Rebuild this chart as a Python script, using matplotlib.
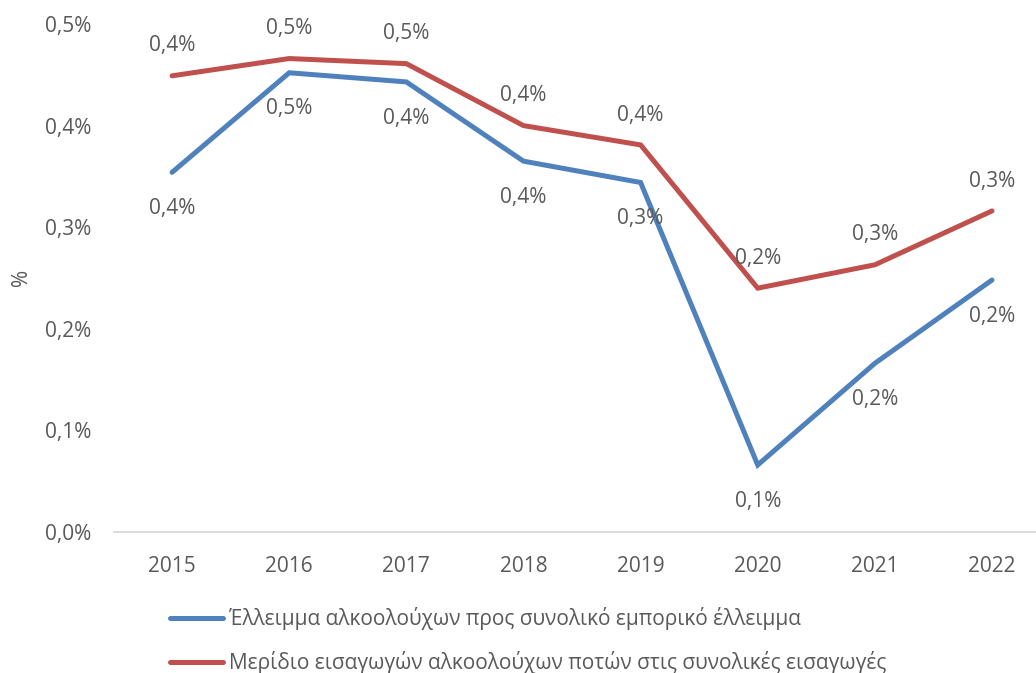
import numpy as np
import matplotlib
matplotlib.use("Agg")
import matplotlib.pyplot as plt

plt.rcParams['font.family'] = ['Open Sans', 'DejaVu Sans']

years = ['2015', '2016', '2017', '2018', '2019', '2020', '2021', '2022']
deficit_share = [0.354, 0.452, 0.443, 0.365, 0.344, 0.066, 0.166, 0.248]
import_share = [0.449, 0.466, 0.461, 0.400, 0.381, 0.240, 0.263, 0.316]
yticks = [0.0, 0.1, 0.2, 0.3, 0.4, 0.5]

label_deficit = 'Έλλειμμα αλκοολούχων προς συνολικό εμπορικό έλλειμμα'
label_import = 'Μερίδιο εισαγωγών αλκοολούχων ποτών στις συνολικές εισαγωγές'

BLUE = '#4F81BD'
RED = '#C0504D'
TXT = '#595959'


def pct(v):
    return f"{v:.1f}".replace('.', ',') + '%'


fig = plt.figure(figsize=(10.36, 6.73), dpi=100)
ax = fig.add_axes([113.5 / 1036, 141 / 673, 1 - 113.5 / 1036, 508 / 673])

x = np.arange(len(years))
ax.plot(x, deficit_share, color=BLUE, lw=3.6, solid_capstyle='round',
        solid_joinstyle='miter', label=label_deficit)
ax.plot(x, import_share, color=RED, lw=3.6, solid_capstyle='round',
        solid_joinstyle='miter', label=label_import)

# etiquetas: serie azul debajo, serie roja encima
for xi, v in zip(x, deficit_share):
    ax.annotate(pct(v), (xi, v), xytext=(0, -26), textcoords='offset points',
                ha='center', va='center', fontsize=15, color=TXT)
for xi, v in zip(x, import_share):
    ax.annotate(pct(v), (xi, v), xytext=(0, 21.5), textcoords='offset points',
                ha='center', va='center', fontsize=15, color=TXT)

ax.set_xlim(-0.5, 7 + 44 / 117.1)
ax.set_ylim(0, 0.5)
ax.set_xticks(x)
ax.set_xticklabels(years)
ax.set_yticks(yticks)
ax.set_yticklabels([pct(t) for t in yticks])
ax.tick_params(axis='both', length=0, labelsize=15, labelcolor=TXT)
ax.tick_params(axis='y', pad=16)
ax.tick_params(axis='x', pad=17)

for side in ['top', 'right', 'left']:
    ax.spines[side].set_visible(False)
ax.spines['bottom'].set_color('#D9D9D9')
ax.spines['bottom'].set_linewidth(1.3)

fig.text(21 / 1036, 1 - 277 / 673, '%', rotation=90, ha='center', va='center',
         fontsize=15, color=TXT)

leg = fig.legend(loc='upper left', bbox_to_anchor=(160 / 1036, 1 - 597 / 673),
                 ncol=1, frameon=False, fontsize=15, handlelength=2.5,
                 handletextpad=0.3, labelspacing=0.98, borderpad=0)
for t in leg.get_texts():
    t.set_color(TXT)

fig.savefig('out.png', dpi=100)
